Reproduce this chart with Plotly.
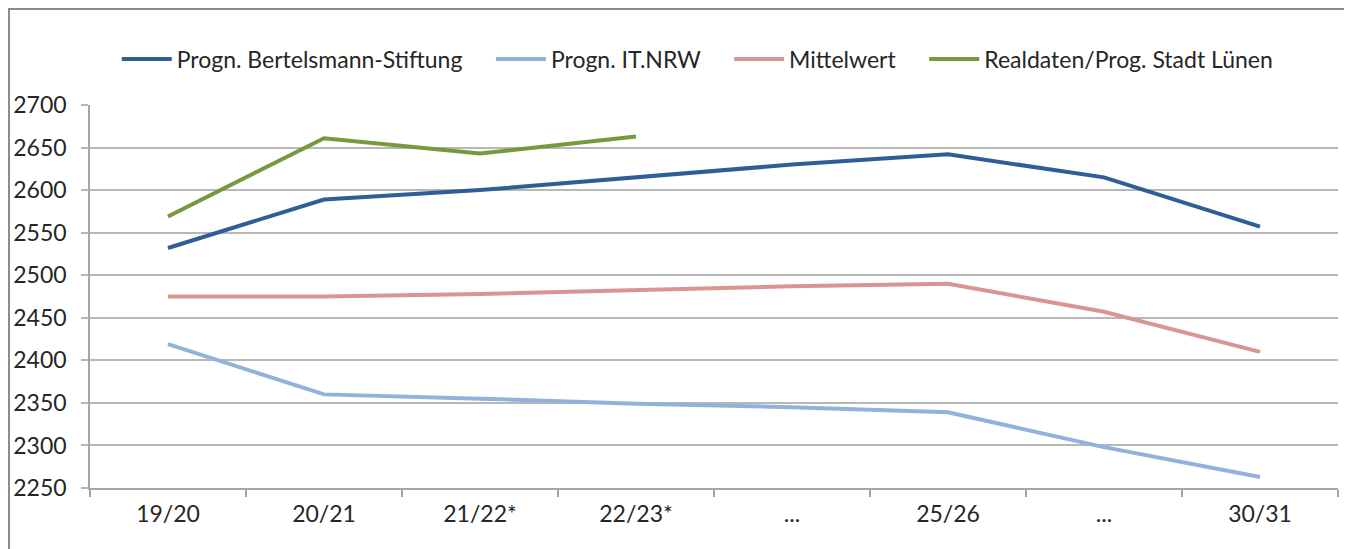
import plotly.graph_objects as go

categories = ["19/20", "20/21", "21/22*", "22/23*", "...", "25/26", "...", "30/31"]
bertelsmann = [2532, 2589, 2600, 2615, 2630, 2642, 2615, 2557]
it_nrw = [2419, 2360, 2355, 2349, 2345, 2339, 2298, 2263]
mittelwert = [2475, 2475, 2478, 2483, 2487, 2490, 2457, 2410]
realdaten = [2569, 2661, 2643, 2663, None, None, None, None]

series = [
    ("Progn. Bertelsmann-Stiftung", bertelsmann, "#2f5d95"),
    ("Progn. IT.NRW", it_nrw, "#92b2dc"),
    ("Mittelwert", mittelwert, "#da9593"),
    ("Realdaten/Prog. Stadt Lünen", realdaten, "#77983b"),
]

PAD = "\u00a0" * 4
xs = list(range(len(categories)))
fig = go.Figure()
for i, (name, vals, col) in enumerate(series):
    label = name + (PAD if i < len(series) - 1 else "")
    fig.add_trace(go.Scatter(x=xs, y=vals, name=label, mode="lines",
                             line=dict(color=col, width=4), connectgaps=False))

FONT = "Lato"
fig.update_layout(
    width=1352, height=549,
    margin=dict(l=82, r=22, t=97, b=69),
    paper_bgcolor="white", plot_bgcolor="white",
    font=dict(family=FONT, size=23, color="#262626"),
    showlegend=True,
    legend=dict(orientation="h", x=0.487, xanchor="center", y=1.12, yanchor="middle",
                font=dict(family=FONT, size=23, color="#262626"),
                itemwidth=50, tracegroupgap=0),
    xaxis=dict(
        range=[-0.5, 7.5], tickvals=xs, ticktext=categories, automargin=False,
        showgrid=False, zeroline=False,
        showline=True, linecolor="#a6a6a6", linewidth=1.5,
        ticks="outside", ticklen=5, tickcolor="rgba(0,0,0,0)",
        minor=dict(tickvals=[i - 0.5 for i in range(len(categories) + 1)],
                   ticks="outside", ticklen=7, tickcolor="#a6a6a6", tickwidth=1.5),
        tickfont=dict(family=FONT, size=23, color="#262626"),
    ),
    yaxis=dict(
        range=[2250, 2700], dtick=50, tick0=2250, automargin=False,
        showgrid=True, gridcolor="#b8b8b8", gridwidth=1.5,
        zeroline=False, showline=True, linecolor="#a6a6a6", linewidth=1.5,
        ticks="outside", ticklen=7, tickcolor="#b8b8b8", tickwidth=1.5,
        ticklabelstandoff=10,
        tickfont=dict(family=FONT, size=23, color="#262626"),
    ),
    shapes=[dict(type="rect", xref="paper", yref="paper",
                 x0=-0.0649, x1=1.05, y0=-0.25, y1=1.2507,
                 line=dict(color="#8c8c8c", width=2), fillcolor="rgba(0,0,0,0)",
                 layer="below")],
)

fig.write_html("out.html")
